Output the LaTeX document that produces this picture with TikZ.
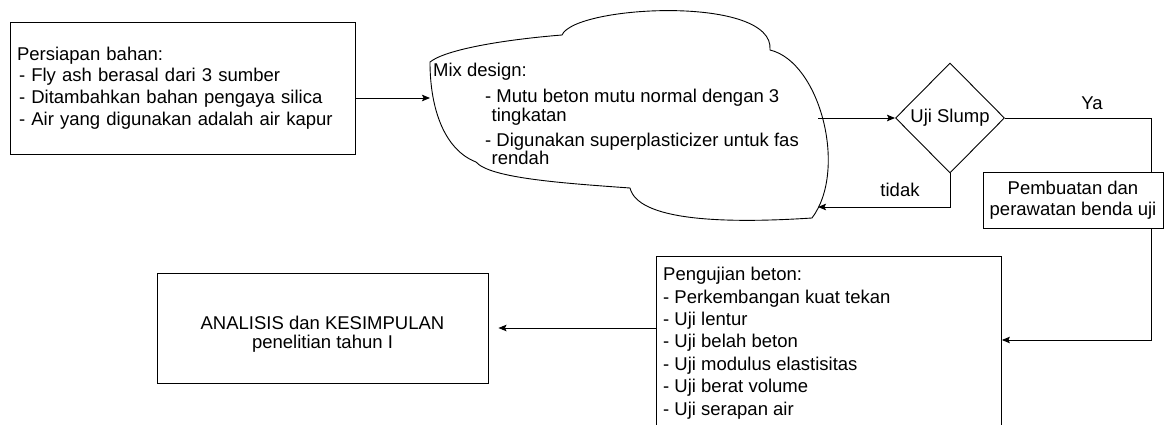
\documentclass[tikz,border=0pt]{standalone}
\usepackage{fontspec}
\setmainfont{Liberation Sans}
\usetikzlibrary{shapes.geometric,arrows.meta}
\begin{document}
\begin{tikzpicture}[x=1pt,y=-1pt,
  font=\fontsize{18.5}{21.6}\selectfont,
  box/.style={draw=black, line width=0.9pt, fill=white},
  arr/.style={draw=black, line width=0.9pt, -{Stealth[length=8pt,width=6.5pt,inset=1.5pt]}},
  conn/.style={draw=black, line width=0.9pt},
  lbl/.style={inner sep=0pt}]
\useasboundingbox (0,0) rectangle (1168,425);
\clip (0,0) rectangle (1168,425);

% Persiapan bahan
\node[box, minimum width=345pt, minimum height=132pt, text width=331pt, inner xsep=7pt, align=left] (bahan) at (182.5,88)
  {Persiapan bahan:\\\hspace{2pt}- Fly ash berasal dari 3 sumber\\\hspace{2pt}- Ditambahkan bahan pengaya silica\\\hspace{2pt}- Air yang digunakan adalah air kapur};

% Cloud (Mix design)
\draw[box] (430,62) .. controls (445,50) and (500,40) .. (562,35)
  .. controls (575,5) and (775,-5) .. (770,50)
  .. controls (820,62) and (848,170) .. (812,218)
  .. controls (720,224) and (638,220) .. (630,188)
  .. controls (560,183) and (490,178) .. (476,162)
  .. controls (445,150) and (430,110) .. cycle;
\node[lbl, anchor=north west, align=left, font=\fontsize{18.5}{18.8}\selectfont] (mixtxt) at (433,63)
  {Mix design:\\[7pt]\hspace{52pt}- Mutu beton mutu normal dengan 3\\\hspace{58.5pt}tingkatan\\[6pt]\hspace{52pt}- Digunakan superplasticizer untuk fas\\\hspace{58.5pt}rendah};
\coordinate (cloudIn) at (430,98);
\coordinate (cloudOut) at (818,118);
\coordinate (cloudBack) at (818,207);

% Uji Slump
\node[box, diamond, minimum width=109pt, minimum height=110pt, inner sep=0pt] (slump) at (950,118) {Uji Slump};

% Pembuatan
\node[box, minimum width=180pt, minimum height=56pt, align=center, font=\fontsize{18.5}{21}\selectfont] (pemb) at (1073,200)
  {Pembuatan dan\\perawatan benda uji};

% Pengujian beton
\node[box, anchor=north west, minimum width=345pt, minimum height=200pt] (peng) at (656,256) {};
\node[lbl, anchor=north west, align=left, font=\fontsize{18.5}{22.4}\selectfont] (pengtxt) at (663,267)
  {Pengujian beton:\\- Perkembangan kuat tekan\\- Uji lentur\\- Uji belah beton\\- Uji modulus elastisitas\\- Uji berat volume\\- Uji serapan air};

% Analisis
\node[box, minimum width=331pt, minimum height=110pt] (ana) at (322.5,328) {};
\node[lbl, align=center, font=\fontsize{18.5}{19.5}\selectfont] (anatxt) at (322.5,334)
  {ANALISIS dan KESIMPULAN\\penelitian tahun I};

\coordinate (yaTurn) at (1151,118);
\coordinate (pengTurn) at (1151,340);

% connectors
\draw[arr] (bahan.east |- cloudIn) -- (cloudIn);
\draw[arr] (cloudOut) -- (slump.west);
\draw[conn] (slump.east) -- (yaTurn) -- (yaTurn |- pemb.north);
\draw[arr] (yaTurn |- pemb.south) -- (pengTurn) -- (pengTurn -| peng.east);
\draw[arr] (slump.south) |- (cloudBack);
\draw[arr, shorten >=10pt] (ana.east -| peng.west) -- (ana.east);

% labels
\node[lbl] (ya) at (1092,103) {Ya};
\node[lbl] (tidak) at (900,190) {tidak};
\end{tikzpicture}
\end{document}
